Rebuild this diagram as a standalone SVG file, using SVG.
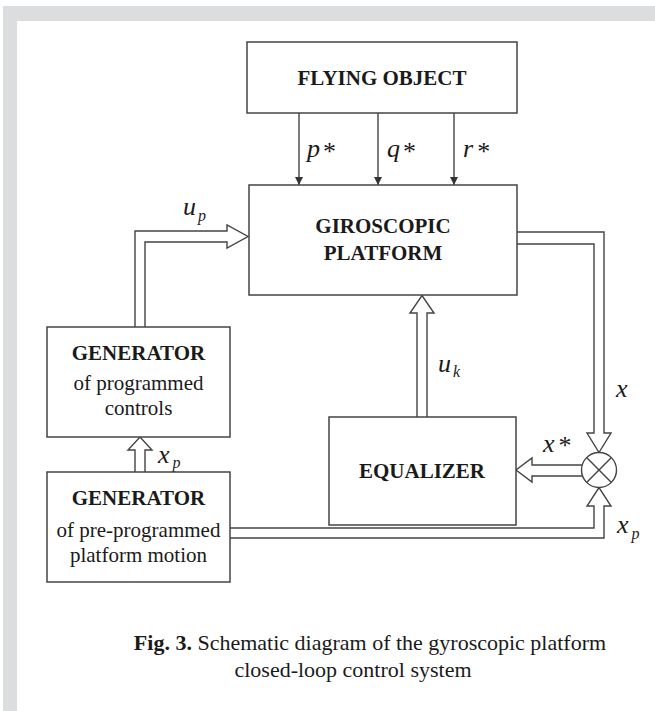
<svg xmlns="http://www.w3.org/2000/svg" width="655" height="711" viewBox="0 0 655 711">
  <style>
    .box { fill: #ffffff; stroke: #444444; stroke-width: 1.5; }
    .wire { fill: none; stroke: #444444; stroke-width: 1.4; }
    .dbl { fill: #ffffff; stroke: #444444; stroke-width: 1.4; stroke-linejoin: miter; }
    .title { font-family: "Liberation Serif", "Times New Roman", serif; font-weight: bold; font-size: 21px; fill: #1a1a1a; text-anchor: middle; }
    .sub { font-family: "Liberation Serif", "Times New Roman", serif; font-size: 21px; fill: #1a1a1a; text-anchor: middle; }
    .var { font-family: "Liberation Serif", "Times New Roman", serif; font-style: italic; font-size: 26px; fill: #1a1a1a; }
    .idx { font-size: 16px; }
    .star { font-style: normal; font-size: 26px; }
    .cap { font-family: "Liberation Serif", "Times New Roman", serif; font-size: 22px; fill: #1a1a1a; text-anchor: middle; }
  </style>
  <defs>
    <marker id="tri" viewBox="0 0 8 8" refX="8" refY="4" markerWidth="8" markerHeight="8" markerUnits="userSpaceOnUse" orient="auto">
      <path d="M0,0 L8,4 L0,8 Z" fill="#333333"/>
    </marker>
  </defs>

  <!-- page frame -->
  <rect x="0" y="0" width="655" height="711" fill="#ffffff"/>
  <rect x="3" y="6" width="652" height="15" fill="#dcdddf"/>
  <rect x="3" y="6" width="14" height="705" fill="#dcdddf"/>

  <!-- connectors -->
  <g id="connectors">
    <line class="wire" x1="299" y1="113" x2="299" y2="185" marker-end="url(#tri)"/>
    <line class="wire" x1="378" y1="113" x2="378" y2="185" marker-end="url(#tri)"/>
    <line class="wire" x1="454" y1="113" x2="454" y2="185" marker-end="url(#tri)"/>
    <!-- u_p -->
    <path class="dbl" d="M135,327 V231 H227 V225 L248,236.5 L227,248 V242 H145 V327"/>
    <!-- x_p (left) -->
    <path class="dbl" d="M135,472 V450 H128 L140,437 L152,450 H145 V472"/>
    <!-- u_k -->
    <path class="dbl" d="M417,417 V313 H410 L422,295.5 L434,313 H427 V417"/>
    <!-- x -->
    <path class="dbl" d="M517,232 H604 V433 H611 L599,452.5 L587,433 H594 V244 H517"/>
    <!-- x* -->
    <path class="dbl" d="M582.5,465 H532 V458 L516,470 L532,482 V476 H582.5"/>
    <!-- x_p (right) -->
    <path class="dbl" d="M230,528 H594 V506 H587 L599,487.5 L611,506 H604 V538 H230"/>

    <text class="var" x="307" y="157">p<tspan class="star" dx="3" dy="3">*</tspan></text>
    <text class="var" x="387" y="157">q<tspan class="star" dx="3" dy="3">*</tspan></text>
    <text class="var" x="463" y="157">r<tspan class="star" dx="4" dy="3">*</tspan></text>
    <text class="var" x="183" y="215">u<tspan class="idx" dx="2" dy="6">p</tspan></text>
    <text class="var" x="438" y="372">u<tspan class="idx" dx="2" dy="5">k</tspan></text>
    <text class="var" x="616" y="397">x</text>
    <text class="var" x="543" y="452">x<tspan class="star" dx="4" dy="2">*</tspan></text>
    <text class="var" x="158" y="463">x<tspan class="idx" dx="3" dy="5">p</tspan></text>
    <text class="var" x="617" y="533">x<tspan class="idx" dx="3" dy="6">p</tspan></text>
  </g>

  <g id="flying-object">
    <rect class="box" x="247" y="42" width="270" height="71"/>
    <text class="title" x="382" y="85" font-size="22">FLYING OBJECT</text>
  </g>

  <g id="giroscopic-platform">
    <rect class="box" x="249" y="185" width="268" height="110"/>
    <text class="title" x="383" y="233">GIROSCOPIC</text>
    <text class="title" x="383" y="260">PLATFORM</text>
  </g>

  <g id="generator-controls">
    <rect class="box" x="47" y="327" width="183" height="110"/>
    <text class="title" x="138.5" y="360">GENERATOR</text>
    <text class="sub" x="138.5" y="390">of programmed</text>
    <text class="sub" x="138.5" y="415">controls</text>
  </g>

  <g id="equalizer">
    <rect class="box" x="329" y="417" width="187" height="108"/>
    <text class="title" x="422" y="478">EQUALIZER</text>
  </g>

  <g id="generator-motion">
    <rect class="box" x="47" y="472" width="183" height="110"/>
    <text class="title" x="138.5" y="505">GENERATOR</text>
    <text class="sub" x="138.5" y="537">of pre-programmed</text>
    <text class="sub" x="138.5" y="562">platform motion</text>
  </g>

  <g id="comparator">
    <circle cx="599" cy="470" r="17.5" fill="#ffffff" stroke="#444444" stroke-width="1.4"/>
    <line class="wire" x1="586.6" y1="457.6" x2="611.4" y2="482.4"/>
    <line class="wire" x1="611.4" y1="457.6" x2="586.6" y2="482.4"/>
  </g>

  <g id="caption">
    <text class="cap" x="370" y="650"><tspan font-weight="bold">Fig. 3.</tspan> Schematic diagram of the gyroscopic platform</text>
    <text class="cap" x="353" y="677">closed-loop control system</text>
  </g>
</svg>
